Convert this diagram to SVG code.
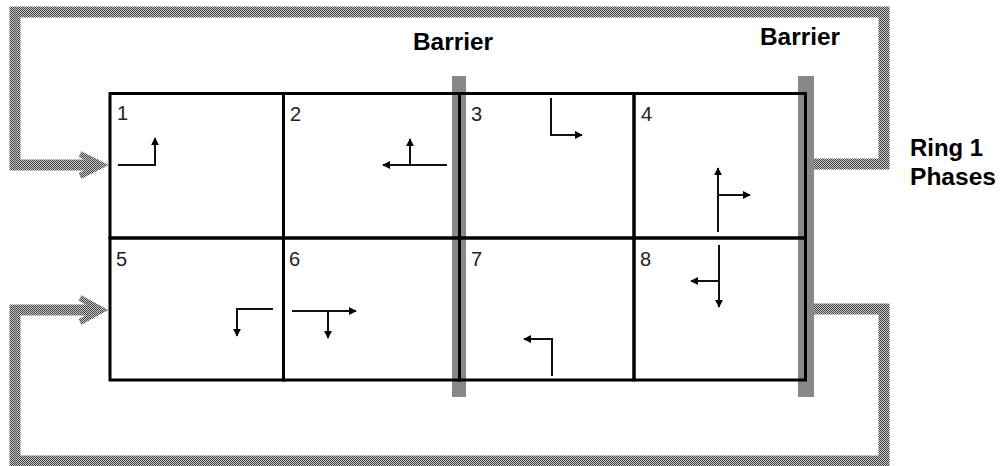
<svg xmlns="http://www.w3.org/2000/svg" width="1001" height="466" viewBox="0 0 1001 466">
<style>
.cell{fill:none;stroke:#000;stroke-width:3}
.mv{fill:none;stroke:#111;stroke-width:2}
.num{font-family:"Liberation Sans",Arial,sans-serif;font-size:20px;fill:#222}
.lbl{font-family:"Liberation Sans",Arial,sans-serif;font-weight:bold;font-size:23px;fill:#000}
.loop{fill:none;stroke:url(#hatch);stroke-width:11}
.chev{fill:none;stroke:url(#hatch);stroke-width:6}
.bar{fill:#888}
</style>
<defs>
<pattern id="hatch" patternUnits="userSpaceOnUse" width="2" height="2">
<rect width="2" height="2" fill="#c8c8c8"/>
<rect width="1" height="1" fill="#444"/>
<rect x="1" y="1" width="1" height="1" fill="#444"/>
</pattern>
<marker id="ah" viewBox="0 0 10 10" refX="9" refY="5" markerWidth="4" markerHeight="4" orient="auto" markerUnits="strokeWidth">
<path d="M0,0 L10,5 L0,10 z" fill="#000"/>
</marker>
</defs>

<g id="connectors">
<path class="loop" d="M813,164 H884 V12 H15 V165 H98"/>
<path class="chev" d="M80,154 L102,165 L80,176"/>
<path class="loop" d="M813,309 H884 V461 H15 V310 H98"/>
<path class="chev" d="M80,298 L102,310 L80,322"/>
</g>

<g id="barriers">
<rect class="bar" x="452" y="76" width="14" height="321"/>
<rect class="bar" x="798" y="76" width="16" height="321"/>
</g>

<g id="phase1">
<rect class="cell" x="110" y="93.5" width="173.5" height="144.5"/>
<text class="num" x="117" y="120">1</text>
<path class="mv" d="M118,165 H155 V138" marker-end="url(#ah)"/>
</g>
<g id="phase2">
<rect class="cell" x="283.5" y="93.5" width="176" height="144.5"/>
<text class="num" x="290" y="121">2</text>
<path class="mv" d="M447,165 H383" marker-end="url(#ah)"/>
<path class="mv" d="M410,165 V139" marker-end="url(#ah)"/>
</g>
<g id="phase3">
<rect class="cell" x="459.5" y="93.5" width="174.5" height="144.5"/>
<text class="num" x="471" y="121">3</text>
<path class="mv" d="M551,98 V135 H582" marker-end="url(#ah)"/>
</g>
<g id="phase4">
<rect class="cell" x="634" y="93.5" width="171.5" height="144.5"/>
<text class="num" x="641" y="121">4</text>
<path class="mv" d="M718,232 V168" marker-end="url(#ah)"/>
<path class="mv" d="M719,195 H750" marker-end="url(#ah)"/>
</g>
<g id="phase5">
<rect class="cell" x="110" y="238" width="173.5" height="142"/>
<text class="num" x="116" y="266">5</text>
<path class="mv" d="M273,309 H237 V336" marker-end="url(#ah)"/>
</g>
<g id="phase6">
<rect class="cell" x="283.5" y="238" width="176" height="142"/>
<text class="num" x="289" y="266">6</text>
<path class="mv" d="M292,311 H356" marker-end="url(#ah)"/>
<path class="mv" d="M328,311 V338" marker-end="url(#ah)"/>
</g>
<g id="phase7">
<rect class="cell" x="459.5" y="238" width="174.5" height="142"/>
<text class="num" x="471" y="266">7</text>
<path class="mv" d="M552,376 V339 H524" marker-end="url(#ah)"/>
</g>
<g id="phase8">
<rect class="cell" x="634" y="238" width="171.5" height="142"/>
<text class="num" x="640" y="266">8</text>
<path class="mv" d="M719,245 V307" marker-end="url(#ah)"/>
<path class="mv" d="M719,281 H691" marker-end="url(#ah)"/>
</g>

<g id="labels">
<text class="lbl" x="413" y="50" textLength="80" lengthAdjust="spacingAndGlyphs">Barrier</text>
<text class="lbl" x="760" y="45" textLength="80" lengthAdjust="spacingAndGlyphs">Barrier</text>
<text class="lbl" x="910" y="156" textLength="73" lengthAdjust="spacingAndGlyphs">Ring 1</text>
<text class="lbl" x="910" y="185" textLength="86" lengthAdjust="spacingAndGlyphs">Phases</text>
</g>
</svg>
